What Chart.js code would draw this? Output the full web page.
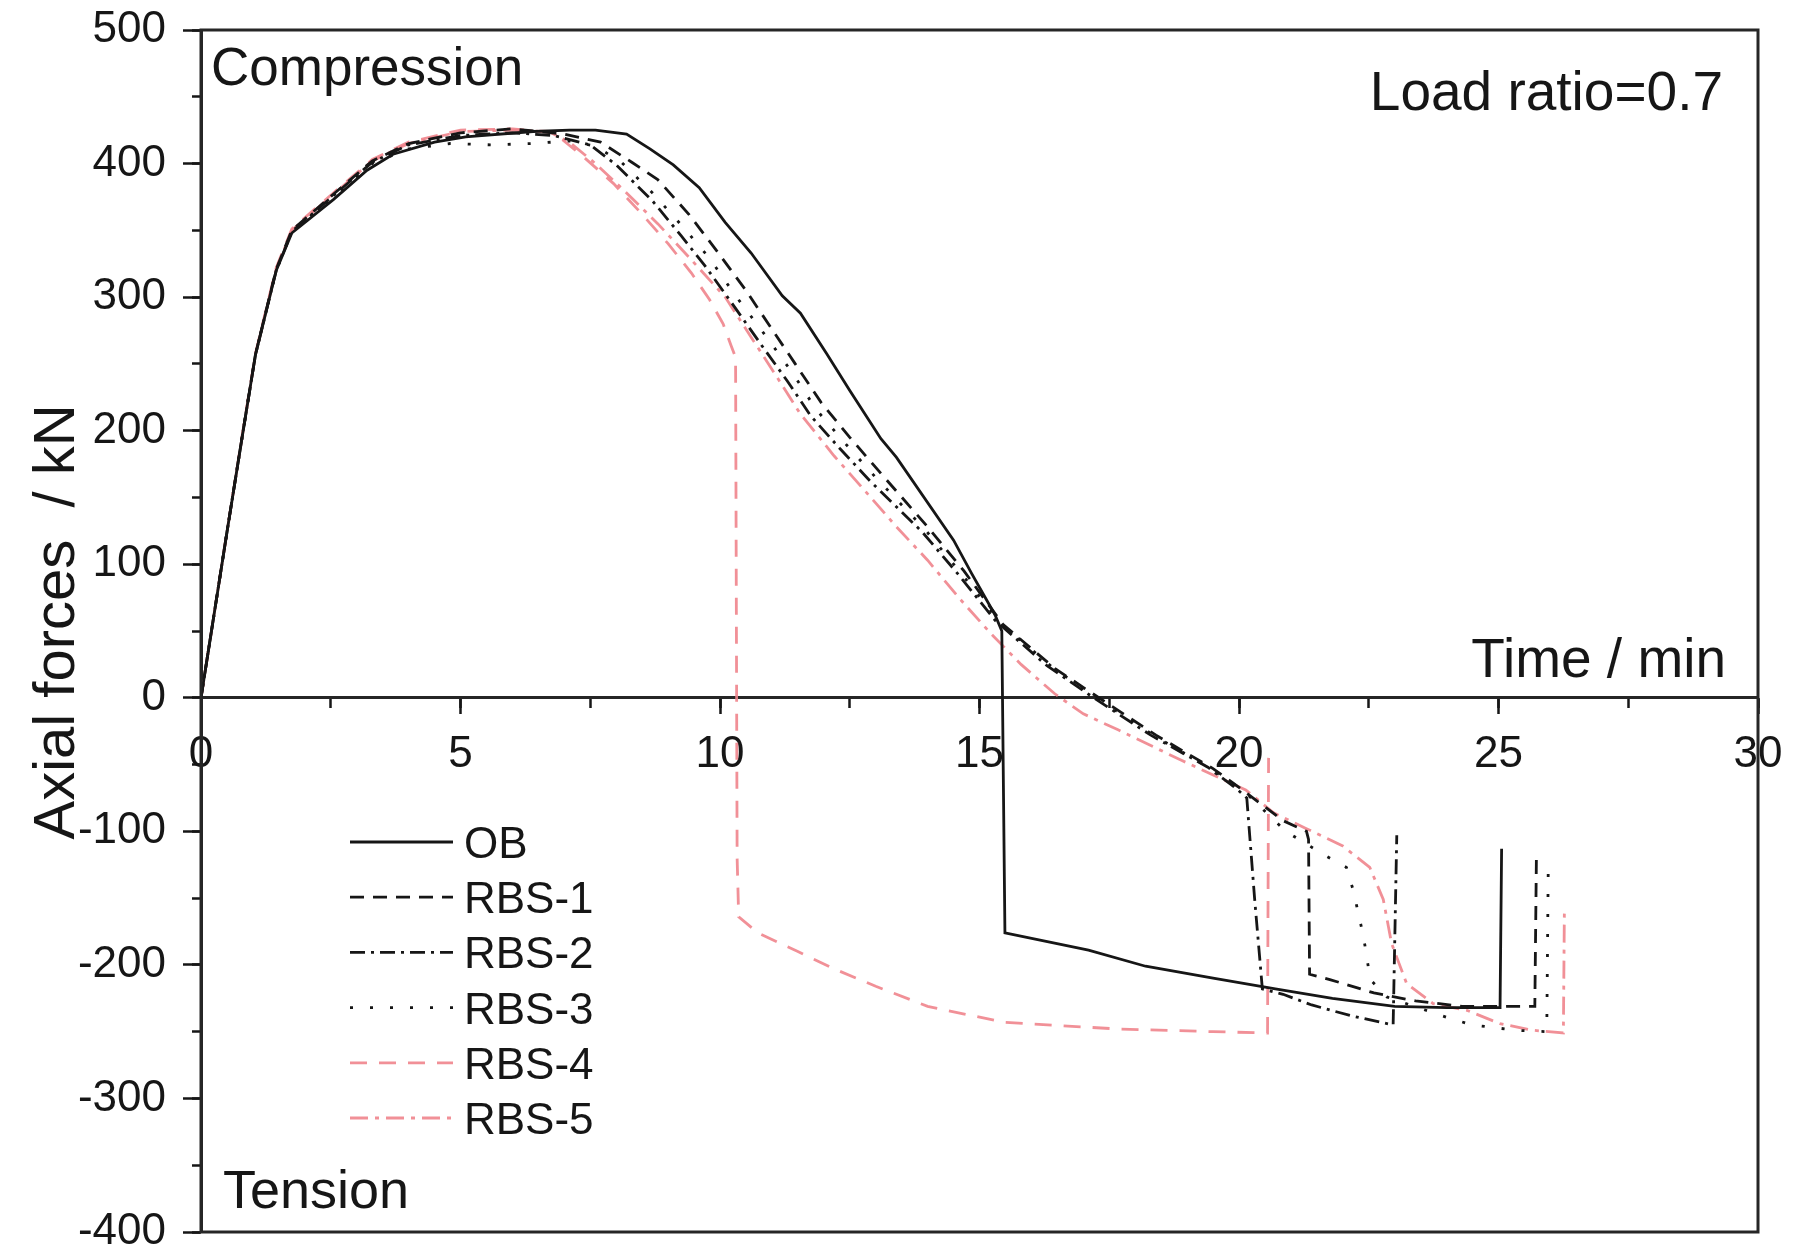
<!DOCTYPE html>
<html>
<head>
<meta charset="utf-8">
<title>Axial forces vs time</title>
<script src="https://cdn.jsdelivr.net/npm/chart.js@4.4.0/dist/chart.umd.min.js"></script>
<style>
  html, body { margin: 0; padding: 0; background: #fff; }
  #wrap { width: 1798px; height: 1250px; }
</style>
</head>
<body>
<div id="wrap"><canvas id="forceChart" width="1798" height="1250"></canvas></div>
<script>
// axial force histories, [time (min), force (kN)]
const OB = [
  [0,0],[0.5,124],[0.8,197],[1.05,257],[1.45,320],[1.75,348],[2.55,373],[3.2,395],[3.7,407],[4.5,416],
  [5.1,420],[6.4,424],[7.1,425],[7.6,425],[8.2,422],[8.65,411],[9.1,399],[9.6,382],[10.1,356],[10.6,333],
  [11.2,301],[11.55,288],[12.05,258],[12.5,230],[13.1,194],[13.4,180],[14.5,118],[14.85,93],[15.3,62],[15.43,50],
  [15.49,-176],[17.1,-189],[18.2,-201],[19.5,-210],[20.7,-218],[21.8,-225],[23.0,-231],[24.0,-232],[25.03,-232],[25.06,-113]
];
const RBS1 = [
  [0,0],[0.5,124],[0.8,197],[1.05,257],[1.45,321],[1.75,350],[2.55,377],[3.3,402],[4.0,415],[5.0,423],
  [6.0,426],[7.0,422],[7.7,416],[8.3,401],[8.8,388],[9.4,362],[9.95,334],[10.5,305],[11.0,276],[11.45,250],
  [11.95,221],[12.5,195],[13.1,168],[14.0,128],[14.7,95],[15.45,55],[16.45,22],[17.3,0],[18.4,-28],[19.5,-53],
  [20.1,-70],[20.85,-92],[21.3,-100],[21.34,-106],[21.36,-207],[21.75,-211],[22.6,-221],[23.4,-227],[24.3,-231],[25.0,-231],
  [25.7,-231],[25.73,-121]
];
const RBS2 = [
  [0,0],[0.5,124],[0.8,197],[1.05,257],[1.45,320],[1.75,349],[2.55,376],[3.3,401],[4.0,414],[5.0,421],
  [6.0,423],[6.8,421],[7.5,414],[8.0,399],[8.7,372],[9.25,346],[9.7,324],[10.2,297],[10.8,264],[11.3,237],
  [11.75,211],[12.3,187],[12.9,162],[13.9,124],[14.6,92],[15.3,58],[16.3,24],[17.2,0],[18.3,-28],[19.4,-52],
  [19.95,-68],[20.15,-75],[20.3,-150],[20.45,-218],[20.85,-222],[21.4,-230],[22.15,-238],[22.97,-245],[23.04,-103]
];
const RBS3 = [
  [0,0],[0.5,124],[0.8,197],[1.05,257],[1.45,320],[1.75,349],[2.55,375],[3.3,400],[4.0,411],[4.8,415],
  [5.6,414],[6.4,415],[7.1,417],[7.6,413],[8.1,401],[8.7,378],[9.3,352],[9.8,329],[10.3,301],[10.9,270],
  [11.4,243],[11.85,216],[12.4,191],[13.0,165],[13.95,126],[14.65,93],[15.4,56],[16.4,23],[17.25,0],[18.35,-28],
  [19.45,-53],[20.1,-70],[20.9,-100],[21.7,-119],[22.07,-127],[22.2,-144],[22.4,-179],[22.53,-211],[22.85,-224],[23.6,-234],
  [24.06,-240],[24.5,-245],[25.35,-249],[25.93,-250],[25.96,-121]
];
const RBS4 = [
  [0,0],[0.5,124],[0.8,198],[1.05,258],[1.45,322],[1.75,351],[2.55,378],[3.3,403],[4.0,416],[5.0,425],
  [6.0,426],[6.8,423],[7.37,405],[7.95,385],[8.5,362],[9.0,340],[9.45,318],[9.8,298],[10.06,280],[10.22,263],
  [10.3,255],[10.33,-120],[10.36,-164],[10.73,-176],[11.5,-190],[12.2,-203],[13.0,-216],[14.0,-231],[15.47,-243],[17.67,-248],
  [19.5,-250],[20.55,-251],[20.57,-45]
];
const RBS5 = [
  [0,0],[0.5,124],[0.8,197],[1.05,257],[1.45,321],[1.75,350],[2.55,377],[3.3,402],[4.0,415],[5.0,424],
  [6.0,425],[6.7,424],[7.1,416],[7.6,400],[8.2,378],[8.8,355],[9.4,330],[10.1,300],[10.6,270],[11.1,240],
  [11.54,213],[12.2,181],[12.77,156],[13.4,128],[14.0,103],[14.6,75],[15.22,48],[15.8,25],[16.45,3],[17.0,-12],
  [17.67,-24],[18.9,-47],[20.13,-69],[20.66,-86],[21.3,-98],[22.0,-111],[22.52,-127],[22.78,-151],[22.94,-184],[23.23,-214],
  [23.74,-229],[24.39,-234],[25.03,-244],[25.67,-249],[26.25,-251],[26.27,-157]
];

const seriesNames = ['OB', 'RBS-1', 'RBS-2', 'RBS-3', 'RBS-4', 'RBS-5'];
const seriesData = [OB, RBS1, RBS2, RBS3, RBS4, RBS5];
const timeTicks = [0, 5, 10, 15, 20, 25, 30];
const forceTicks = [500, 400, 300, 200, 100, 0, -100, -200, -300, -400];

const FONT = "'Liberation Sans', Arial, Helvetica, sans-serif";
const INK = '#161616';
const PINK = 'rgba(240,132,140,0.9)';

const lineStyles = [
  { color: INK,  dash: [] },
  { color: INK,  dash: [14, 9] },
  { color: INK,  dash: [15, 6, 3, 6] },
  { color: INK,  dash: [3, 17] },
  { color: PINK, dash: [17, 12] },
  { color: PINK, dash: [18, 7, 4, 7] }
];

const datasets = seriesData.map((pts, i) => ({
  label: seriesNames[i],
  data: pts.map(p => ({ x: p[0], y: p[1] })),
  borderColor: lineStyles[i].color,
  borderDash: lineStyles[i].dash,
  borderWidth: 2.8,
  pointRadius: 0,
  tension: 0,
  fill: false
}));

// frame, in-plot text and the legend block
const annotations = {
  id: 'annotations',
  afterDraw(chart) {
    const { ctx, chartArea: ca } = chart;
    ctx.save();
    ctx.strokeStyle = '#262626';
    ctx.lineWidth = 3;
    ctx.setLineDash([]);
    ctx.strokeRect(ca.left, ca.top, ca.right - ca.left, ca.bottom - ca.top);

    ctx.fillStyle = INK;
    ctx.textBaseline = 'alphabetic';
    ctx.font = '53px ' + FONT;
    ctx.textAlign = 'left';
    ctx.fillText('Compression', ca.left + 10, ca.top + 55);
    ctx.font = '54px ' + FONT;
    ctx.fillText('Tension', ca.left + 22, ca.bottom - 24);
    ctx.font = '55px ' + FONT;
    ctx.textAlign = 'right';
    ctx.fillText('Load ratio=0.7', ca.right - 35, ca.top + 80);
    const y0 = chart.scales.y.getPixelForValue(0);
    ctx.fillText('Time / min', ca.right - 32, y0 - 21);

    // y axis title
    ctx.save();
    ctx.translate(74, 622);
    ctx.rotate(-Math.PI / 2);
    ctx.textAlign = 'center';
    ctx.font = '58px ' + FONT;
    ctx.fillText('Axial forces  / kN', 0, 0);
    ctx.restore();

    // legend
    ctx.font = '44px ' + FONT;
    ctx.textAlign = 'left';
    chart.data.datasets.forEach((ds, i) => {
      const y = ca.top + 812 + i * 55.2;
      ctx.strokeStyle = ds.borderColor;
      ctx.lineWidth = ds.borderWidth;
      ctx.setLineDash(ds.borderDash);
      ctx.beginPath();
      ctx.moveTo(ca.left + 149, y);
      ctx.lineTo(ca.left + 252, y);
      ctx.stroke();
      ctx.setLineDash([]);
      ctx.fillStyle = INK;
      ctx.fillText(ds.label, ca.left + 263, y + 16);
    });
    ctx.restore();
  }
};

const tickFont = { family: FONT, size: 44 };

new Chart(document.getElementById('forceChart'), {
  type: 'line',
  data: { datasets },
  plugins: [annotations],
  options: {
    responsive: false,
    animation: false,
    events: [],
    layout: { padding: { left: 0, right: 40, top: 30, bottom: 18 } },
    plugins: { legend: { display: false }, tooltip: { enabled: false } },
    scales: {
      x: {
        type: 'linear', min: 0, max: 30,
        position: { y: 0 },
        afterBuildTicks: s => { s.ticks = timeTicks.map(v => ({ value: v })); },
        afterFit: s => { s.paddingLeft = 0; s.paddingRight = 0; },
        ticks: { font: tickFont, color: INK, padding: 16, maxRotation: 0, autoSkip: false },
        grid: { drawOnChartArea: false, tickLength: 15, tickWidth: 2.5, tickColor: INK },
        border: { display: true, width: 3, color: '#262626' }
      },
      xMinor: {
        axis: 'x', type: 'linear', min: 0, max: 30,
        position: { y: 0 },
        ticks: { display: false, stepSize: 2.5 },
        grid: { drawOnChartArea: false, tickLength: 10, tickWidth: 2.5, tickColor: INK },
        border: { display: false }
      },
      y: {
        type: 'linear', min: -400, max: 500,
        position: 'left',
        afterBuildTicks: s => { s.ticks = forceTicks.map(v => ({ value: v })); },
        afterFit: s => { s.width = 201; s.paddingTop = 0; s.paddingBottom = 0; },
        ticks: { font: tickFont, color: INK, padding: 17 },
        grid: { drawOnChartArea: false, tickLength: 18, tickWidth: 2.5, tickColor: INK },
        border: { display: true, width: 3, color: '#262626' }
      },
      yMinor: {
        axis: 'y', type: 'linear', min: -400, max: 500,
        position: { x: 0 },
        ticks: { display: false, stepSize: 50 },
        grid: { drawOnChartArea: false, tickLength: 9, tickWidth: 2.5, tickColor: INK },
        border: { display: false }
      }
    }
  }
});
</script>
</body>
</html>
